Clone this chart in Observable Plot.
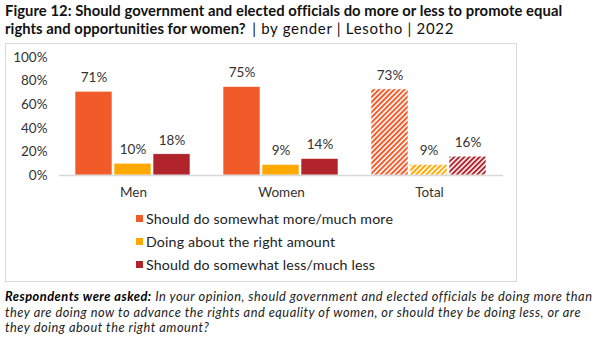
<!DOCTYPE html>
<html><head><meta charset="utf-8">
<script src="https://cdn.jsdelivr.net/npm/d3@7"></script>
<script src="https://cdn.jsdelivr.net/npm/@observablehq/plot@0.6"></script>
<style>
body{margin:0;background:#fff;font-family:Lato,"Open Sans",sans-serif;color:#1a1a1a;width:602px;height:338px;position:relative;overflow:hidden}
#title{position:absolute;left:5px;top:1px;font-size:14.8px;line-height:18px;font-weight:700;color:#111;white-space:nowrap;letter-spacing:0.05px}
#title span{font-weight:400;font-size:15px;letter-spacing:0.7px;margin-left:3px}
#box{position:absolute;left:5px;top:43px;width:512px;height:239px;border:1px solid #d9d9d9;box-sizing:border-box}
#chart{position:absolute;left:5px;top:43px}
#legend{position:absolute;left:136px;top:207px;font-size:14.2px;color:#222;letter-spacing:0.15px}
.li{display:flex;align-items:center;height:23px}
.sw{width:7px;height:7px;margin-right:3px}
#caption{position:absolute;left:5px;top:289px;font-size:12.8px;line-height:15.6px;font-style:italic;color:#222;white-space:nowrap;letter-spacing:0.5px}
#caption b{font-weight:700;color:#000}
</style></head>
<body>
<div id="title">Figure 12: Should government and elected officials do more or less to promote equal<br>rights and opportunities for women? <span>| by gender | Lesotho | 2022</span></div>
<div id="box"></div>
<div id="chart"></div>
<div id="legend"></div>
<div id="caption"><b>Respondents were asked:</b> In your opinion, should government and elected officials be doing more than<br>they are doing now to advance the rights and equality of women, or should they be doing less, or are<br>they doing about the right amount?</div>
<script>
const groups = ["Men", "Women", "Total"];
const series = ["Should do somewhat more/much more", "Doing about the right amount", "Should do somewhat less/much less"];
const moreValues = [71, 75, 73];
const rightValues = [10, 9, 9];
const lessValues = [18, 14, 16];
const seriesColors = ["#F15A29", "#FFA800", "#B2242C"];
const yTicks = [0, 20, 40, 60, 80, 100];

const valuesBySeries = [moreValues, rightValues, lessValues];
const data = [];
groups.forEach((g, gi) => series.forEach((s, si) => {
  data.push({group: g, series: s, value: valuesBySeries[si][gi],
    fill: g === "Total" ? `url(#hatch${si})` : seriesColors[si]});
}));

const font = "Lato, 'Open Sans', sans-serif";
const chart = Plot.plot({
  width: 512, height: 160,
  marginLeft: 53, marginRight: 14, marginTop: 14, marginBottom: 28,
  style: {fontFamily: font, fontSize: "13.5px", color: "#333", background: "transparent"},
  fx: {domain: groups, paddingInner: 0, paddingOuter: 0, label: null, axis: "bottom", tickSize: 0, tickPadding: 12},
  x: {domain: series, paddingInner: 0.04, paddingOuter: 0.4, axis: null},
  y: {domain: [0, 100], ticks: yTicks, tickFormat: d => d + "%", tickSize: 0, tickPadding: 12, label: null},
  color: {type: "identity"},
  marks: [
    Plot.barY(data, {fx: "group", x: "series", y: "value", fill: "fill", stroke: "#fff", strokeWidth: 0.6}),
    Plot.text(data, {fx: "group", x: "series", y: "value", text: d => d.value + "%", dy: -14, fill: "#333", fontSize: 13.5}),
    Plot.ruleY([0], {stroke: "#d9d9d9", strokeWidth: 1.5})
  ]
});
const ns = "http://www.w3.org/2000/svg";
const defs = document.createElementNS(ns, "defs");
seriesColors.forEach((c, i) => {
  const p = document.createElementNS(ns, "pattern");
  p.setAttribute("id", "hatch" + i);
  p.setAttribute("patternUnits", "userSpaceOnUse");
  p.setAttribute("width", "3.6");
  p.setAttribute("height", "3.6");
  p.setAttribute("patternTransform", "rotate(45)");
  const bg = document.createElementNS(ns, "rect");
  bg.setAttribute("width", "3.6"); bg.setAttribute("height", "3.6"); bg.setAttribute("fill", "#fff");
  const st = document.createElementNS(ns, "rect");
  st.setAttribute("width", "2"); st.setAttribute("height", "3.6"); st.setAttribute("fill", c);
  p.appendChild(bg); p.appendChild(st); defs.appendChild(p);
});
chart.insertBefore(defs, chart.firstChild);
document.getElementById("chart").appendChild(chart);

const legend = document.getElementById("legend");
series.forEach((s, i) => {
  const row = document.createElement("div"); row.className = "li";
  const sw = document.createElement("div"); sw.className = "sw"; sw.style.background = seriesColors[i];
  const t = document.createElement("span"); t.textContent = s;
  row.appendChild(sw); row.appendChild(t); legend.appendChild(row);
});
</script>
</body></html>
